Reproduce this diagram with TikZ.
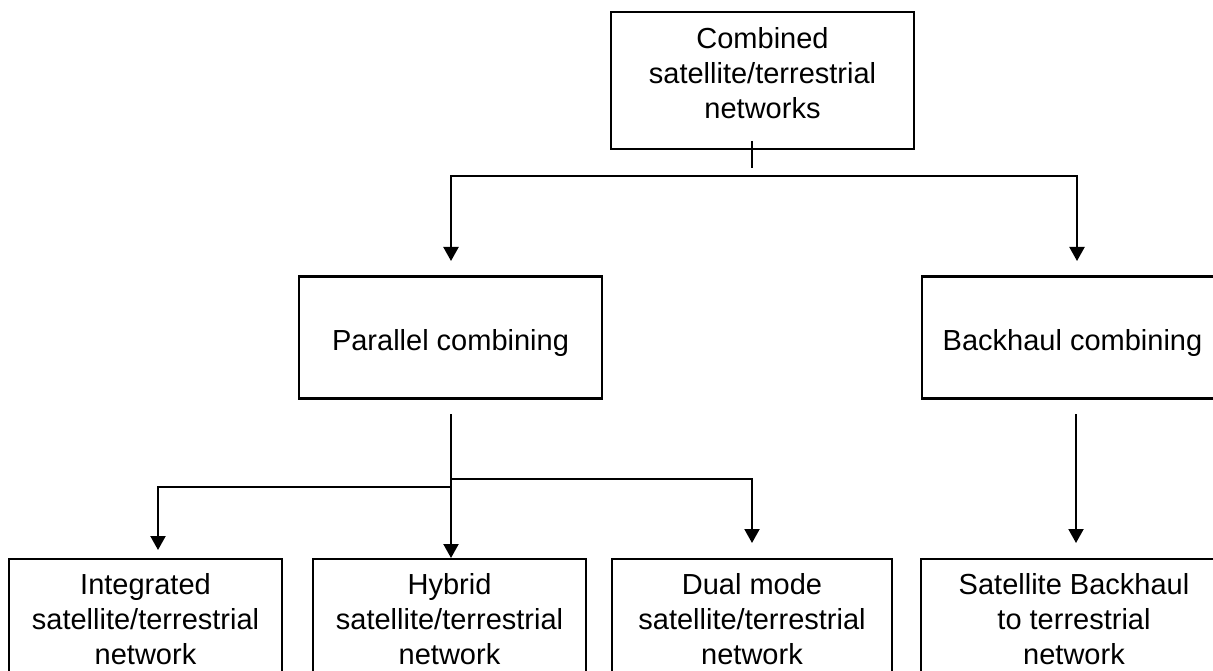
\documentclass[tikz,border=0pt]{standalone}
\usepackage{fontspec}
\setmainfont{Liberation Sans}
\usetikzlibrary{arrows.meta}
\begin{document}
\begin{tikzpicture}[x=1pt,y=-1pt,
  box/.style={draw, line width=2.1pt, rectangle, align=center, inner sep=0pt,
    font=\fontsize{29}{35}\selectfont},
  conn/.style={line width=2.1pt},
  tip/.style={-{Triangle[width=15pt,length=14pt]}},
  tips/.style={{Triangle[width=15pt,length=14pt]}-{Triangle[width=15pt,length=14pt]}}]
\useasboundingbox (0,0) rectangle (1213,671);
\clip (0,0) rectangle (1213,671);
\fill[white] (0,0) rectangle (1213,671);

\node[box, minimum width=303pt, minimum height=137pt, text depth=16pt] (top) at (762.5,80.5)
  {Combined\\satellite/terrestrial\\networks};
\node[box, minimum width=303pt, minimum height=122pt, text height=32pt, text depth=6pt] (par) at (450.5,337.5)
  {Parallel combining};
\node[box, minimum width=301pt, minimum height=122pt, text height=32pt, text depth=6pt] (back) at (1072.5,337.5)
  {Backhaul combining};
\node[box, minimum width=273pt, minimum height=119pt, text depth=-2pt] (integ) at (145.5,618.5)
  {Integrated\\satellite/terrestrial\\network};
\node[box, minimum width=273pt, minimum height=119pt, text depth=-2pt] (hyb) at (449.5,618.5)
  {Hybrid\\satellite/terrestrial\\network};
\node[box, minimum width=280pt, minimum height=119pt, text depth=-2pt] (dual) at (752,618.5)
  {Dual mode\\satellite/terrestrial\\network};
\node[box, minimum width=306pt, minimum height=119pt, text depth=-2pt] (sat) at (1074,618.5)
  {Satellite Backhaul\\to terrestrial\\network};

% top stub and bus
\coordinate (s1) at (752,141);
\coordinate (s2) at (752,168);
\coordinate (j1) at (451,176);
\coordinate (j2) at (1077,176);
\coordinate (t1) at (451,261);
\coordinate (t2) at (1077,261);
\draw[conn] (s1) -- (s2);
\draw[conn, tips] (t1) -- (j1) -- (j2) -- (t2);

% parallel branches
\coordinate (p0) at (451,414);
\coordinate (pl) at (451,487);
\coordinate (pr) at (451,479);
\coordinate (ti) at (158,550);
\coordinate (th) at (451,558);
\coordinate (td) at (752,543);
\draw[conn, tip] (p0) -- (th);
\draw[conn, tip] (pl) -| (ti);
\draw[conn, tip] (pr) -| (td);

% backhaul
\coordinate (b0) at (1076,414);
\coordinate (tb) at (1076,543);
\draw[conn, tip] (b0) -- (tb);
\end{tikzpicture}
\end{document}
